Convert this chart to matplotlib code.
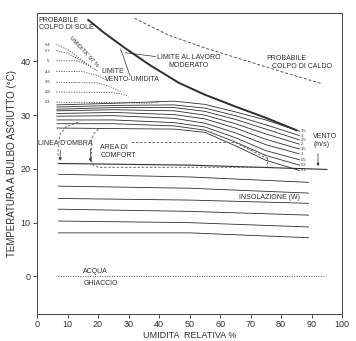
import matplotlib.pyplot as plt

plt.rcParams['font.family'] = ['Liberation Sans', 'DejaVu Sans']

# limite al lavoro moderato (curva spessa)
limit_rh = [16.8, 22, 29, 37, 46.5, 55, 65, 75, 85]
limit_t = [47.7, 45.3, 42.4, 39.3, 36.0, 33.8, 31.6, 29.5, 27.2]

# probabile colpo di caldo (tratteggiata)
heat_rh = [32, 43, 55, 68, 80, 93]
heat_t = [48.0, 44.9, 42.5, 40.2, 38.1, 35.9]

# linee vento-umidita tratteggiate a sinistra
dot_labels = ["6.4", "5.7", "5", "4.3", "3.6", "2.8", "2.1"]
dot_rh = [
    [6.3, 10, 13, 16.2],
    [6.3, 10, 14, 17.8],
    [6.3, 13, 17, 20.1],
    [6.3, 15, 20, 23.4],
    [6.3, 20, 24, 27.4],
    [6.3, 24, 28, 30.0],
    [6.3, 30, 36, 40.0],
]
dot_t = [
    [43.1, 42.2, 41.0, 39.6],
    [42.0, 41.5, 40.3, 39.0],
    [40.1, 40.1, 39.2, 38.1],
    [38.1, 38.1, 37.3, 36.3],
    [36.1, 36.0, 35.3, 34.4],
    [34.3, 34.2, 33.9, 33.5],
    [32.4, 32.3, 32.2, 32.4],
]

# curve del vento (m/s)
wind_rh = [6.5, 25, 45, 55, 65, 75, 86]
wind_t = [
    [31.9, 32.2, 32.6, 32.0, 30.6, 29.1, 27.0],
    [31.5, 31.8, 31.9, 31.3, 29.9, 28.2, 26.2],
    [31.1, 31.4, 31.4, 30.7, 29.2, 27.4, 25.4],
    [30.8, 31.0, 30.8, 30.0, 28.4, 26.5, 24.6],
    [30.3, 30.5, 30.1, 29.3, 27.6, 25.5, 23.7],
    [29.8, 29.9, 29.4, 28.5, 26.7, 24.5, 22.8],
    [29.1, 29.1, 28.6, 27.8, 25.8, 23.4, 21.7],
    [28.4, 28.4, 28.0, 27.2, 25.0, 22.5, 20.7],
    [27.6, 27.5, 27.4, 26.8, 24.3, 21.6, 19.7],
]
wind_labels = ["3.5", "3", "2.5", "2", "1.5", "1", "0.5", "0.2", "0.1"]

# linea d'ombra (base area di comfort)
shade_rh = [7, 50, 95]
shade_t = [21.0, 20.7, 19.9]

# area di comfort (tratteggiata)
comf_rh = [20.1, 18.6, 17.8, 17.8, 18.6, 20.1, 45, 75.6, 75.6, 74.5]
comf_t = [27.4, 26.5, 25.2, 21.5, 20.6, 20.3, 20.3, 20.3, 21.9, 22.8]
comf_top_rh = [31, 50, 65, 75.6]
comf_top_t = [24.9, 24.9, 24.9, 21.9]
arc_rh = [13.5, 9.5, 7.6, 6.9, 6.9]
arc_t = [28.7, 27.8, 26.5, 24.0, 22.0]

# linee di insolazione (W)
sun_rh = [7, 50, 89]
sun_t = [
    [19.0, 18.5, 17.5],
    [16.8, 16.4, 15.5],
    [14.5, 14.2, 13.6],
    [12.5, 12.1, 11.4],
    [10.3, 10.0, 9.2],
    [8.1, 8.1, 7.2],
]

ink = "#2e2e2e"
fig = plt.figure(figsize=(3.56, 3.41), dpi=100)
ax = fig.add_axes([0.104, 0.079, 0.857, 0.883])

ax.plot(limit_rh, limit_t, color=ink, lw=1.4)
ax.plot(heat_rh, heat_t, color="#555555", lw=0.7, ls=(0, (3, 2)))

for rh, t, lab in zip(dot_rh, dot_t, dot_labels):
    ax.plot(rh, t, color="#555555", lw=0.6, ls=(0, (1.5, 1.5)))
    ax.text(3.6, t[0], lab, fontsize=3, color=ink, ha="center", va="center")

for t, lab in zip(wind_t, wind_labels):
    ax.plot(wind_rh, t, color=ink, lw=0.6)
    ax.text(wind_rh[-1] + 0.5, t[-1], lab, fontsize=3, color=ink, ha="left", va="center")

ax.plot(shade_rh, shade_t, color=ink, lw=0.8)
ax.plot(comf_rh, comf_t, color="#555555", lw=0.6, ls=(0, (3, 2)))
ax.plot(comf_top_rh, comf_top_t, color="#555555", lw=0.6, ls=(0, (3, 2)))
ax.plot(arc_rh, arc_t, color="#555555", lw=0.6, ls=(0, (3, 2)))

for t in sun_t:
    ax.plot(sun_rh, t, color=ink, lw=0.6)

ax.plot([7, 94], [0, 0], color="#555555", lw=0.7, ls=(0, (1, 1.5)))

# frecce
arrow = dict(arrowstyle="-|>", color=ink, lw=0.5, mutation_scale=4)
ax.annotate("", xy=(7.6, 21.0), xytext=(7.6, 24.0), arrowprops=arrow)
ax.annotate("", xy=(17.5, 20.8), xytext=(17.5, 24.3), arrowprops=arrow)
ax.annotate("", xy=(92.1, 20.0), xytext=(92.1, 23.4), arrowprops=arrow)

# leader lines
ax.plot([29, 38.8], [41.6, 40.9], color=ink, lw=0.5)
ax.plot([27.4, 30.5], [42.3, 37.3], color=ink, lw=0.5)

fs = 5
ax.text(0.6, 48.3, "PROBABILE\nCOLPO DI SOLE", fontsize=fs, color=ink, va="top", ha="left", linespacing=1.1)
ax.text(49.6, 40.0, "LIMITE AL LAVORO\nMODERATO", fontsize=fs, color=ink, va="center", ha="center", linespacing=1.1)
ax.text(75.2, 40.6, "PROBABILE", fontsize=fs, color=ink, va="center", ha="left")
ax.text(76.9, 39.1, "COLPO DI CALDO", fontsize=fs, color=ink, va="center", ha="left")
ax.text(15.2, 41.8, "UMIDITA' 97 %", fontsize=4.2, color=ink, rotation=-47, va="center", ha="center",
        rotation_mode="anchor")
ax.text(21.1, 38.1, "LIMITE", fontsize=fs, color=ink, va="center", ha="left")
ax.text(22.4, 36.7, "VENTO-UMIDITA", fontsize=fs, color=ink, va="center", ha="left")
ax.text(0.2, 24.7, "LINEA D'OMBRA", fontsize=fs, color=ink, va="center", ha="left")
ax.text(20.8, 23.9, "AREA DI", fontsize=fs, color=ink, va="center", ha="left")
ax.text(20.8, 22.5, "COMFORT", fontsize=fs, color=ink, va="center", ha="left")
ax.text(90.5, 25.2, "VENTO\n(m/s)", fontsize=fs, color=ink, va="center", ha="left", linespacing=1.2)
ax.text(66.3, 14.7, "INSOLAZIONE (W)", fontsize=fs, color=ink, va="center", ha="left")
ax.text(15.2, 0.9, "ACQUA", fontsize=fs, color=ink, va="center", ha="left")
ax.text(15.2, -1.3, "GHIACCIO", fontsize=fs, color=ink, va="center", ha="left")

ax.set_xlim(0, 100)
ax.set_ylim(-7, 49)
ax.set_xticks(range(0, 101, 10))
ax.set_yticks([0, 10, 20, 30, 40])
ax.tick_params(labelsize=6.5, length=3, width=0.6, colors=ink, pad=1.5)
for s in ax.spines.values():
    s.set_linewidth(0.7)
    s.set_color("#444444")
ax.set_xlabel("UMIDITA  RELATIVA %", fontsize=6.5, color=ink, labelpad=1.5)
ax.set_ylabel("TEMPERATURA A BULBO ASCIUTTO (°C)", fontsize=7, color=ink, labelpad=3)

fig.savefig("out.png", dpi=100)
